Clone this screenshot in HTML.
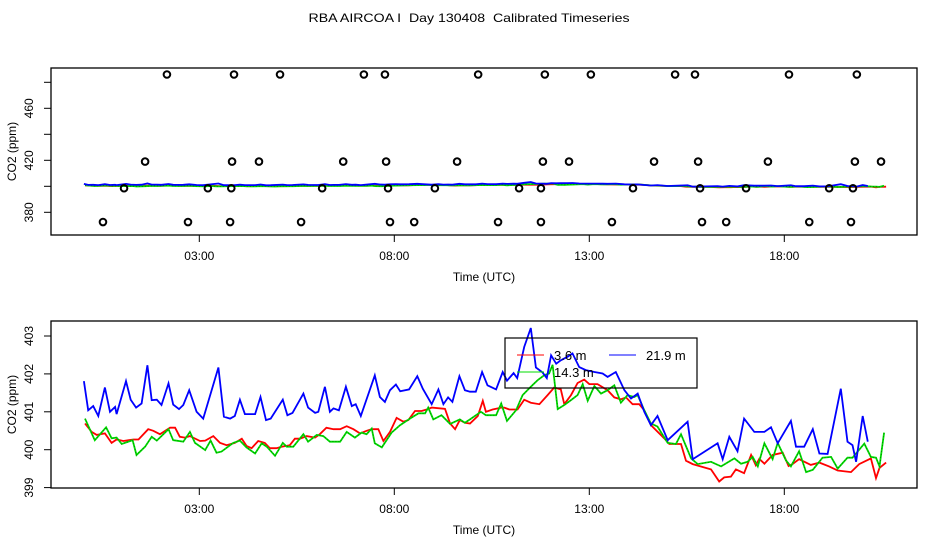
<!DOCTYPE html>
<html><head><meta charset="utf-8"><style>
body{margin:0;background:#fff}
svg{display:block;font-family:"Liberation Sans",sans-serif}
</style></head><body>
<svg id="chart" width="936" height="540" viewBox="0 0 936 540" xmlns="http://www.w3.org/2000/svg">
<rect width="936" height="540" fill="#fff"/>
<text x="469" y="22" text-anchor="middle" font-size="12" style="white-space:pre" textLength="321" lengthAdjust="spacingAndGlyphs">RBA AIRCOA I  Day 130408  Calibrated Timeseries</text>
<g id="top"></g>
<g id="bot"></g>
</svg>
<script>
// ---- data ----
const xTickHours = [3, 8, 13, 18];
const xTickLabels = ["03:00", "08:00", "13:00", "18:00"];
const topYTicks = [380, 400, 420, 440, 460, 480];
const topYLabels = ["380", "", "420", "", "460", ""];
const botYTicks = [399, 400, 401, 402, 403];
const botYLabels = ["399", "400", "401", "402", "403"];

const blueT = [0.04,0.15,0.28,0.41,0.58,0.71,0.84,0.88,1.12,1.24,1.38,1.52,1.67,1.78,1.91,2.03,2.21,2.33,2.48,2.59,2.74,2.93,3.10,3.49,3.63,3.79,3.91,4.04,4.17,4.43,4.57,4.71,4.83,5.14,5.26,5.39,5.67,5.79,5.97,6.05,6.22,6.35,6.44,6.58,6.76,6.91,7.01,7.14,7.50,7.63,7.76,7.89,8.04,8.15,8.38,8.59,8.73,8.96,9.13,9.26,9.38,9.49,9.67,9.81,9.94,10.09,10.25,10.39,10.61,10.78,10.89,11.06,11.15,11.33,11.50,11.63,11.80,11.91,12.02,12.15,12.27,12.44,12.57,12.74,12.91,13.13,13.34,13.47,13.68,13.90,14.07,14.24,14.41,14.58,14.75,15.01,15.52,15.65,16.29,16.42,16.59,16.80,16.97,17.23,17.49,17.66,17.83,18.17,18.30,18.51,18.73,18.90,19.11,19.45,19.62,19.75,19.84,20.01,20.14];
const blueV = [401.81,401.04,401.15,400.89,401.64,401.00,401.13,400.94,401.81,401.32,401.11,401.22,402.23,401.31,401.32,401.18,401.75,401.19,401.07,401.18,401.57,401.00,400.82,402.17,400.87,400.82,400.89,401.32,400.94,400.94,401.39,400.78,400.82,401.32,400.91,400.97,401.48,401.11,400.97,401.00,401.66,401.00,401.09,401.04,401.66,401.15,401.20,400.89,401.96,401.39,401.26,401.57,401.72,401.54,401.59,401.94,401.61,401.20,401.59,401.20,401.38,401.26,401.94,401.57,401.53,401.53,402.05,401.70,401.59,402.05,401.82,402.02,401.89,402.71,403.21,402.17,402.04,401.89,402.49,402.27,402.36,402.45,402.54,402.18,402.10,402.05,402.01,401.92,402.05,401.57,401.35,401.48,401.00,400.65,400.89,400.25,400.74,399.75,400.17,399.75,400.34,399.96,400.82,400.47,400.47,400.59,400.17,400.76,400.08,400.08,400.54,399.90,399.89,401.61,400.21,400.12,399.68,400.89,400.21];

const redT = [0.07,0.24,0.37,0.58,0.75,0.88,1.05,1.31,1.44,1.69,1.82,1.99,2.25,2.38,2.50,2.63,2.76,3.02,3.15,3.36,3.53,3.70,3.91,4.09,4.21,4.34,4.51,4.68,4.81,4.98,5.11,5.32,5.45,5.58,5.75,5.97,6.09,6.26,6.44,6.61,6.78,6.95,7.12,7.29,7.42,7.59,7.72,7.89,8.06,8.23,8.36,8.53,8.70,8.83,8.96,9.30,9.43,9.56,9.68,9.81,9.94,10.14,10.27,10.35,10.52,10.74,10.82,10.95,11.16,11.33,11.50,11.72,11.93,12.10,12.27,12.36,12.53,12.70,12.87,13.00,13.21,13.47,13.64,13.81,13.94,14.11,14.28,14.41,14.58,14.92,15.05,15.35,15.48,15.65,16.12,16.33,16.46,16.63,16.76,16.97,17.15,17.27,17.36,17.49,17.70,17.96,18.11,18.21,18.38,18.68,18.90,19.15,19.37,19.71,19.92,20.22,20.35,20.44,20.61];
const redV = [400.69,400.47,400.39,400.43,400.18,400.27,400.23,400.27,400.27,400.54,400.50,400.41,400.58,400.58,400.34,400.32,400.36,400.23,400.24,400.36,400.18,400.12,400.18,400.29,400.10,400.04,400.23,400.18,400.04,400.04,400.08,400.12,400.29,400.29,400.36,400.32,400.41,400.58,400.54,400.54,400.62,400.54,400.43,400.50,400.54,400.54,400.23,400.47,400.84,400.74,400.78,401.02,401.02,401.06,401.11,401.08,400.69,400.54,400.78,400.71,400.69,400.89,401.29,401.00,401.06,401.11,401.11,401.06,401.06,401.32,401.24,401.20,401.44,401.64,401.59,401.20,401.44,401.76,401.85,401.73,401.73,401.57,401.38,401.33,401.38,401.20,401.20,401.04,400.65,400.30,400.15,400.15,399.71,399.62,399.48,399.16,399.27,399.29,399.48,399.38,399.86,399.59,399.76,399.63,399.86,399.92,399.57,399.62,399.75,399.60,399.66,399.56,399.45,399.41,399.62,399.77,399.25,399.52,399.66];

const greenT = [0.07,0.32,0.61,0.75,0.88,1.01,1.29,1.39,1.61,1.78,1.91,2.21,2.33,2.59,2.76,2.89,3.15,3.29,3.44,3.57,3.87,4.04,4.21,4.43,4.60,4.73,4.94,5.14,5.24,5.41,5.67,5.79,6.01,6.18,6.35,6.61,6.78,6.99,7.16,7.29,7.42,7.50,7.68,7.93,8.15,8.40,8.62,8.79,8.87,9.00,9.21,9.43,9.68,9.81,9.94,10.22,10.35,10.61,10.74,10.89,11.12,11.29,11.50,11.68,11.85,11.97,12.06,12.19,12.36,12.53,12.70,12.83,12.96,13.13,13.30,13.47,13.64,13.81,13.98,14.15,14.24,14.41,14.58,14.75,15.01,15.22,15.35,15.61,15.78,16.12,16.38,16.72,16.89,17.06,17.19,17.32,17.49,17.70,17.83,18.04,18.17,18.38,18.56,18.73,18.98,19.20,19.37,19.62,19.75,20.05,20.22,20.35,20.44,20.56];
const greenV = [400.82,400.25,400.59,400.30,400.32,400.15,400.25,399.86,400.08,400.34,400.24,400.54,400.25,400.21,400.47,400.18,399.99,400.24,399.92,399.95,400.18,400.24,400.06,399.90,400.17,400.08,399.84,400.18,400.08,400.08,400.41,400.21,400.39,400.36,400.21,400.21,400.47,400.32,400.45,400.41,400.56,400.17,400.06,400.45,400.65,400.82,400.96,400.96,401.11,400.80,400.91,400.68,400.80,400.71,400.80,401.00,400.91,400.91,401.22,400.76,401.04,401.44,401.66,401.84,401.97,402.01,402.24,401.07,401.18,401.31,401.44,401.73,401.29,401.68,401.48,401.57,401.70,401.24,401.44,401.39,401.44,401.04,400.69,400.61,400.18,400.15,400.41,399.77,399.62,399.68,399.56,399.77,399.63,399.68,399.81,399.56,400.17,399.75,400.18,399.72,399.56,399.96,399.41,399.47,399.79,399.81,399.50,399.79,399.79,400.16,399.81,399.79,399.56,400.45];

const outlierT = [2.17,3.89,5.07,7.22,7.76,10.15,11.86,13.04,15.20,15.71,18.12,19.86, 1.61,3.84,4.53,6.69,7.79,9.61,11.81,12.48,14.66,15.79,17.58,19.81,20.48, 1.07,3.22,3.82,6.15,7.84,9.04,11.20,11.76,14.12,15.84,17.02,19.15,19.76, 0.53,2.71,3.79,5.61,7.89,8.51,10.66,11.76,13.58,15.89,16.51,18.64,19.71];
const outlierV = [486,486,486,486,486,486,486,486,486,486,486,486, 419,419,419,419,419,419,419,419,419,419,419,419,419, 398.5,398.5,398.5,398.5,398.5,398.5,398.5,398.5,398.5,398.5,398.5,398.5,398.5, 372.5,372.5,372.5,372.5,372.5,372.5,372.5,372.5,372.5,372.5,372.5,372.5,372.5];

// ---- layout ----
const NS = "http://www.w3.org/2000/svg";
const L = 51, R = 917;
const xs = h => 199.3 + (h - 3) * 39;
const topY = v => 186.3 - (v - 400) * 1.3;
const botY = v => 449.7 - (v - 400) * 37.9;

function mk(parent, tag, attrs) {
  const e = document.createElementNS(NS, tag);
  for (const k in attrs) e.setAttribute(k, attrs[k]);
  parent.appendChild(e);
  return e;
}
function pts(T, V, yf) { return T.map((t, i) => xs(t).toFixed(1) + "," + yf(V[i]).toFixed(1)).join(" "); }

function panel(g, top, bot, yf, yTicks, yLabels, name) {
  const fr = mk(g, "rect", {x: L, y: top, width: R - L, height: bot - top, fill: "none", stroke: "#000", "stroke-width": 1.3});
  
  
  xTickHours.forEach((h, i) => {
    const t = mk(g, "line", {x1: xs(h), x2: xs(h), y1: bot, y2: bot + 7, stroke: "#000"});
    
    
    const tx = mk(g, "text", {x: xs(h), y: bot + 25, "text-anchor": "middle", "font-size": 12});
    tx.textContent = xTickLabels[i];
    
    
  });
  yTicks.forEach((v, i) => {
    const t = mk(g, "line", {x1: L - 7, x2: L, y1: yf(v), y2: yf(v), stroke: "#000"});
    
    
    if (yLabels[i]) {
      const tx = mk(g, "text", {x: 0, y: 0, "text-anchor": "middle", "font-size": 12, transform: `translate(33,${yf(v)}) rotate(-90)`});
      tx.textContent = yLabels[i];
      
      
    }
  });
  const yt = mk(g, "text", {x: 0, y: 0, "text-anchor": "middle", "font-size": 12, transform: `translate(16,${(top + bot) / 2}) rotate(-90)`});
  yt.textContent = "CO2 (ppm)";
  
  
  const xt = mk(g, "text", {x: 484, y: bot + 46, "text-anchor": "middle", "font-size": 12});
  xt.textContent = "Time (UTC)";
  
  

  const red = mk(g, "polyline", {points: pts(redT, redV, yf), fill: "none", stroke: "#f00", "stroke-width": 1.8});
  
  
  const grn = mk(g, "polyline", {points: pts(greenT, greenV, yf), fill: "none", stroke: "#0d0", "stroke-width": 1.8});
  
  
  const grd = mk(g, "polyline", {points: pts(greenT, greenV, yf), fill: "none", stroke: "#000", "stroke-width": 0.6, "stroke-dasharray": "1,2", opacity: 0.6});
  
  
  const blu = mk(g, "polyline", {points: pts(blueT, blueV, yf), fill: "none", stroke: "#00f", "stroke-width": 1.8});
  
  
}

const gt = document.getElementById("top");
panel(gt, 68, 235, topY, topYTicks, topYLabels, "top-panel");
outlierT.forEach((t, i) => {
  const c = mk(gt, "circle", {cx: xs(t), cy: topY(outlierV[i]), r: 3.3, fill: "none", stroke: "#000", "stroke-width": 2});
  
  
});

const gb = document.getElementById("bot");
panel(gb, 321, 488, botY, botYTicks, botYLabels, "bottom-panel");

// legend
const lg = mk(gb, "g", {});


mk(lg, "rect", {x: 505, y: 338, width: 192, height: 50, fill: "none", stroke: "#000", "stroke-width": 1.2});
const legendItems = [
  {c: "#f00", x: 517, y: 355, label: "3.6 m"},
  {c: "#00f", x: 609, y: 355, label: "21.9 m"},
  {c: "#0d0", x: 517, y: 372, label: "14.3 m"}
];
legendItems.forEach(it => {
  const e = mk(lg, "g", {});
  
  
  mk(e, "line", {x1: it.x, x2: it.x + 27, y1: it.y, y2: it.y, stroke: it.c, "stroke-width": 1});
  const t = mk(e, "text", {x: it.x + 37, y: it.y + 5, "font-size": 13});
  t.textContent = it.label;
});
</script>
</body></html>
